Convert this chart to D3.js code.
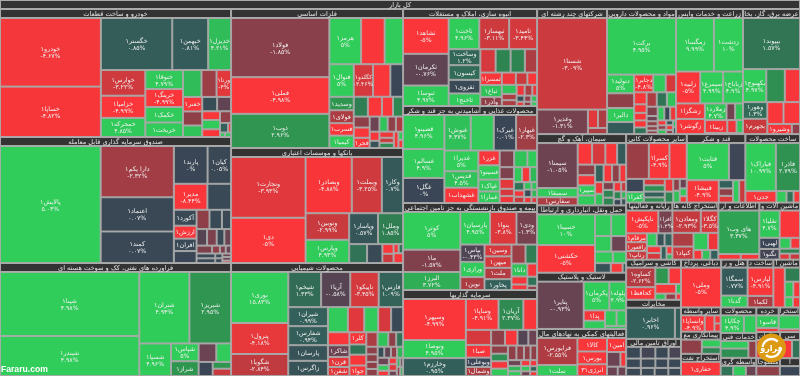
<!DOCTYPE html>
<html lang="fa"><head><meta charset="utf-8">
<style>html,body{margin:0;padding:0;background:#aaa;overflow:hidden}svg{display:block;filter:blur(.35px)}text{font-family:"DejaVu Sans",sans-serif}</style>
<script src="https://cdn.jsdelivr.net/npm/d3@7"></script></head><body><svg id="c" width="800" height="376"></svg>
<script>
const rootTitle="کل بازار";
// each row: symbol, traded size, % change
const khodro=[["خودرو۱",6800,-4.67],["خساپا۱",5000,-4.82],["خگستر۱",3650,.85],["خبهمن۱",1836,.81],["خدیزل۱",1170,4.21],["خوارس۱",1122,-3.22],["خزامیا۱",968,-4.99],["خمحرکه۱",836,4.85],["ختوقا۱",703,4.79],["خرینگ۱",666,-4.99],["خکمک۱",573,4.9],["خریخت۱",536,4.9],["",490,4.2],["",397,-2.2],["ورنا۱",384,-4],["خفنر۱",275,-4.9],["",266,-2],["",218,4.5],["",210,.3],["",196,-.8],["",153,-4.9],["",162,4.9],["",135,-4.9],["",126,-2],["",76,1],["",28,-4.9],["",22,4.9],["",27,4.9]];
const sandogh=[["پالایش۱",11484,5.03],["دارا یکم۱",3660,-2.32],["اعتماد۱",2443,.07],["کمند۱",2250,.07],["پارند۱",1242,0],["کیان۱",864,.05],["مدیر۱",850,-8.44],["",600,.1],["آکورد۱",352,.1],["ارزش۱",286,-5],["افران۱",275,.1],["",264,0],["",243,-2],["",234,.1],["",171,.05],["",170,-.6],["",155,-1.5],["",124,.1],["",108,-1],["",120,-1.5],["",60,-2],["",45,-1.5],["",41,-1],["",88,.1],["",85,.1],["",33,.1],["",33,.1],["",30,-1],["",30,-1],["",20,-4]];
const faravardeh=[["شپنا۱",8832,4.98],["شبندر۱",5520,4.98],["شتران۱",3550,4.94],["شبریز۱",2946,2.95],["شسپا۱",1023,4.96],["شپاس۱",486,5],["شراز۱",405,3],["",324,-1],["",270,4.9],["",196,0],["",123,3],["",133,-3]];
const felezat=[["فولاد۱",5539,-1.85],["فملی۱",3427,-4.98],["ذوب۱",3197,2.96],["هرمز۱",1395,5],["",1035,-4.9],["",810,4.9],["فنوال۱",756,5],["وسدید۱",312,3],["فولای۱",300,-2.5],["فسرب۱",288,-5],["کیمیا۱",288,4.9],["کگلدو۱",598,-3.46],["",535,-4.9],["",394,0],["",266,1.8],["",266,-4.9],["",209,-4.9],["",190,2.2],["",166,-2],["",155,-4.9],["فجر۱",155,-4.9],["",140,-1],["",85,-4.9],["",67,.5],["",118,4.5],["",118,-2],["",103,-2.5],["",84,-4.5],["",70,-3],["",70,2.5],["",72,-4.9],["",36,4.9],["",36,-4.9]];
const bank=[["وتجارت۱",4380,-3.93],["دی۱",3263,-5],["وبصادر۱",2513,-4.88],["وبملت۱",1633,-3.25],["وکار۱",1155,.7],["وتوبین۱",1121,-2.99],["وپارس۱",979,4.93],["وپاسار۱",861,.57],["وملل۱",750,1.85],["",327,1.5],["",280,.1],["",104,-4.9],["",100,-3],["",45,-4.9],["",39,1.5],["",90,-4.9]];
const shimi=[["نوری۱",2805,15.83],["پترول۱",1705,-4.18],["شگویا۱",1210,-2.84],["شیخم۱",1108,1.33],["آریا۱",984,-.58],["تاپیکو۱",960,-3.45],["فارس۱",823,1.09],["شیران۱",725,.99],["شفارس۱",725,.94],["پارسان۱",596,.5],["زاگرس۱",578,.5],["",480,4.9],["",396,-3.9],["",336,4.9],["",312,-3.5],["",288,.1],["",269,-4.9],["شاکر۱",242,-1],["قرن۱",207,-4],["شفن۱",186,-4],["کلر۱",198,-4.9],["",165,1.5],["",176,-4.9],["جوا۱",170,-4.9],["",157,-2.5],["",150,4.5],["",110,-2],["",96,1.5],["",83,-2],["",83,-2],["",77,-2],["",77,-2],["",70,.3],["",70,-.8],["",64,-2],["",64,4],["",80,-1],["",60,4.9],["",57,-4.9],["",50,-4.9],["",50,-4],["",40,-1],["",30,4],["",30,-2],["",25,-1],["",25,4]];
const anbooh=[["ثشاهد۱",1575,-5],["ثکرمان۱",1395,-.76],["ثنوسا۱",900,4.97],["ثاخت۱",921,4.96],["ثبهساز۱",900,-3.11],["ثامید۱",840,-3.44],["وساخت۱",490,1.2],["کیسون۱",448,1.3],["ثقزوی۱",416,.1],["ثاخنج۱",384,4.9],["",345,-3.5],["",338,2],["",322,2],["",276,-2.5],["ثمسرا۱",259,-4.9],["ثباغ۱",248,4.5],["وآذر۱",186,-2],["",166,-4.5],["",137,-3],["",115,-4.9],["",130,4.5],["",90,-2.5],["",83,-2.5],["",84,-4.5],["",80,-2.5],["",50,-4.5],["",45,.3],["",40,-2],["",35,4.5],["",30,-4.5],["",30,-2],["",25,4.9]];
const ghaza=[["قصینو۱",1308,4.96],["غسالم۱",1108,4.9],["غگل۱",960,0],["غنوش۱",868,4.37],["",759,4.9],["غبرک۱",736,.01],["غبهار۱",693,-2.3],["غدیرا۱",656,5],["قدیس۱",517,4.5],["غشهداب۱",485,-4.9],["غزر۱",292,-4.9],["غسینو۱",283,4.9],["غپاک۱",234,4.9],["غمارا۱",228,4.9],["",225,-1.5],["",205,4.5],["",150,4.9],["",156,-1.5],["",130,-4],["",97,-3.5],["",91,-4.5],["",114,4.8],["",108,-4.8],["",100,4],["",80,1.5],["",60,-4.8],["",60,-3],["",50,4.5],["",50,.2],["",40,-4.5],["",40,4.5],["",40,4],["",30,-4]];
const bimeh=[["کوثر۱",2111,5],["ما۱",1249,-1.57],["البرز۱",1008,3.72],["پارسیان۱",946,4.95],["بنوا۱",840,-3.8],["ودی۱",656,-1.3],["بپاس۱",408,-.43],["ورازی۱",360,4.9],["نوین۱",305,-2.5],["وسین۱",312,-3.5],["میهن۱",302,-3.3],["ملت۱",300,-2.6],["پخاور۱",286,1],["",260,-2.2],["",215,1.8],["داتا۱",200,4.5],["",125,-4.8],["",85,-4.8],["",125,-4.8],["",87,1.5],["",40,-2]];
const sarmaye=[["وسپهر۱",2442,-4.99],["وتوصا۱",1075,4.95],["وخارزم۱",1065,.95],["وساپا۱",956,-4.91],["آریان۱",726,2.37],["",402,-4.9],["",360,-3.5],["صبا۱",305,-4.8],["وبوعلی۱",224,0],["وشمال۱",216,-2.5],["",206,-2],["",186,-4.8],["",162,-.5],["",130,-1],["",130,-2],["",120,2.5],["",118,-4.8],["",118,4.8],["",117,-2],["",104,-2],["",91,-2],["",91,-2],["",72,-1],["",66,4],["",60,4.8],["",50,-4.8],["",45,4.8],["",40,-1],["",40,-4.8],["",35,1],["",30,-4.8]];
const chand=[["شستا۱",6300,-3.09],["وغدیر۱",1224,-1.31],["",183,-4],["",165,-2.5],["",114,-2.5]];
const darou=[["برکت۱",3640,4.95],["دتولید۱",473,5],["",372,-2],["دالبر۱",354,4.9],["",304,.8],["دجابر۱",315,-4.8],["",207,4.9],["",171,-3.5],["",140,-4.9],["",99,-4.9],["",88,-4.9],["",82,-4.9],["",77,1.5],["",136,-2.5],["",136,1.5],["",123,4.5],["",96,-1.5],["",54,-1],["",51,-2],["",45,-2],["",36,-2],["",85,4.8],["",75,0],["",75,-4.5],["",40,-4.9],["",35,-2],["",35,4.5],["",30,.5],["",30,-4.5],["",25,-2],["",20,4.5],["",20,1]];
const zeraat=[["زمگسا۱",1972,9.99],["زدشت۱",1517,10],["زلبیه۱",751,-5],["سیمرغ۱",710,4.99],["زباباخ۱",616,4.9],["زشگزا۱",435,-4.7],["زگوشر۱",425,-4.9],["زملارد۱",350,4.7],["",139,-1.2],["",128,4.5],["زبینا۱",282,-4.8],["",116,-4.5],["",82,4.8],["",40,-3]];
const bargh=[["بپیوند۱",2815,1.57],["بکهنوج۱",743,4.97],["",591,2.5],["",485,-4.8],["وهور۱",391,1.3],["بجهرم۱",360,-3],["",341,-4.9],["",348,-4.9],["وشیرو۱",240,-4.8],["",80,-2]];
const siman=[["سیمتا۱",1584,-1.05],["سمبقا۱",324,4.9],["سفارس۱",288,-2.5],["",270,-4.9],["",248,-3.5],["",221,-4.9],["",168,.8],["",160,-2],["",154,-4.9],["سپیر۱",154,4.9],["",150,4.9],["",129,1],["",129,-4.8],["",115,-2],["",100,-4.8],["",80,-4.5],["",80,4.5],["",72,-1.5],["",72,2],["",72,2],["",60,-4.8],["",50,2],["",40,0],["",40,-3],["",30,4],["",30,.5]];
const haml=[["حسینا۱",1727,10],["حکشتی۱",1556,-5],["",342,4.9],["",315,4.9],["",245,4.9],["",225,-1],["",200,4.9],["",150,4.9],["",147,.5],["",110,-4.9],["",33,1]];
const lastik=[["پتایر۱",2070,-.93],["پکرمان۱",694,5],["پلوله۱",454,4.9],["پدا۱",207,-4.9],["",166,4.9],["",168,4.8],["",140,4.8],["",60,4.8]];
const komaki=[["فرابورس۱",1040,-2.55],["تملت۱",420,4.9],["کالا۱",381,-4.9],["بورس۱",360,-4.9],["انرژی۳۱",330,-4.9],["امین۱",257,-4.9],["",187,-1],["",80,-4.9],["",95,-1],["",75,-1]];
const kani=[["",736,-2.2],["کسرا۱",670,-4.9],["",561,-4.9],["",210,0],["کفرا۱",168,4.9],["",122,-3.5],["",120,2.5],["",110,1],["",98,2.5],["",98,-4.5],["",84,2],["",70,-2],["",70,4.5],["",60,-1],["",50,4.9],["",40,-4.9]];
const ghand=[["قثابت۱",1476,5],["",576,-.1],["قنیشا۱",676,-4.9],["",112,1],["",100,-2],["",90,-4],["",130,4.9],["",130,-3]];
const sakhtMahsool=[["فباراک۱",1394,10.99],["فاذر۱",1104,2.79],["جدن۱",338,-4.9],["",110,4.9],["",77,1.5],["",70,-4.9]];
const rayaneh=[["ناپکیش۱",694,-5],["افرا۱",303,-1.3],["مرقام۱",174,-4.9],["رافعور۱",174,-3.3],["رتاپ۱",168,-3],["",120,4.9],["",96,.5],["",96,1],["",90,-4.9],["",87,-3.5],["",72,1],["",45,-4.9],["",30,4]];
const kaneh=[["ومعادن۱",607,-2.93],["کگلا۱",376,-3.5],["",278,-2.5],["کنپاد۱",264,-3],["",238,4.8],["",170,-4.5],["",80,-4.9],["",75,4.5],["",75,1]];
const etelaat=[["های وب۱",1720,3.37],["",120,-4.9],["",100,-4.9]];
const mashin=[["تقلیا۱",542,4.7],["",542,-4.9],["لهبی۱",220,0],["تگنو۱",210,-.2],["",117,4.8],["",100,-4.8],["",100,2],["",60,-4],["",60,-3]];
const kashi=[["کساوه۱",542,-2.62],["کحافظ۱",348,-4.9],["",208,3],["",192,-4.9],["",189,-4.9],["",45,4.5],["",60,4.5],["",60,-2],["",30,-4.9]];
const mokhaberat=[["اخابر۱",1440,.96],["",180,.9]];
const oragh=[["",100,.02],["",100,-.2],["",90,.02],["",85,-.3],["",80,.03],["",80,.02],["",70,.03],["",70,.02],["",70,.02],["",65,.02],["",65,.03],["",60,.02]];
const dabaghi=[["وملی۱",1521,-5]];
const hotel=[["سمگا۱",710,.77],["گدنا۱",300,4.9]];
const sakhtDastgah=[["لپارس۱",683,-4.91],["لکما۱",278,-2.5]];
const mashinAla=[["",438,-4.9],["",208,1.8],["",130,4.5],["",100,-4.9],["",80,4.9],["",70,-4.9]];
const sayerVaseteh=[["وانساپا۱",306,-4.9],["",126,-4.9],["",40,-4.9],["",40,-4.5]];
const peymankari=[["",266,-2],["",130,4.9],["",110,2]];
const naft=[["حفاری۱",530,-4.9]];
const mahsoolat=[["چکاپا۱",350,4.9],["",188,4.9]];
const khadamat=[["",190,4.9],["",230,2.5],["",120,-2]];
const vasetegari=[["",120,1.5],["",120,4.9],["",100,-1]];
const fardeh=[["قاسو۱",258,4.9],["",80,-4.9]];
const estekhraj=[["",300,4.9],["",60,-4]];
const mobl=[["",150,-4.9],["",150,4.9]];
const si=[["",150,-4.9],["",100,1.5]];
const mansooj=[["",120,-2]];
const alef=[["",120,0]];

const sectorNames=["خودرو و ساخت قطعات","صندوق سرمایه گذاری قابل معامله","فراورده های نفتی، کک و سوخت هسته ای","فلزات اساسی","بانکها و موسسات اعتباری","محصولات شیمیایی","انبوه سازی، املاک و مستغلات","محصولات غذایی و آشامیدنی به جز قند و شکر","بیمه و صندوق بازنشستگی به جز تامین اجتماعی","سرمایه گذاریها","شرکتهای چند رشته ای","مواد و محصولات دارویی","زراعت و خدمات وابسته","عرضه برق، گاز، بخار و آب گرم","سیمان، آهک و گچ","حمل ونقل، انبارداری و ارتباطات","لاستیک و پلاستیک","فعالیتهای کمکی به نهادهای مالی واسط","سایر محصولات کانی غیرفلزی","قند و شکر","ساخت محصولات فلزی","رایانه و فعالیتهای وابسته","استخراج کانه های فلزی","اطلاعات و ارتباطات","ماشین آلات و تجهیزات","کاشی و سرامیک","مخابرات","اوراق تامین مالی","دباغی، پرداخت چرم","هتل و رستوران","ساخت دستگاههای برقی","ماشین آلات و دستگاهها","سایر واسطه گریهای مالی","پیمانکاری معدن","استخراج نفت گاز","محصولات کاغذی","خدمات فنی و مهندسی","واسطه گری های مالی","خرده فروشی","استخراج زغال سنگ","مبلمان","سی","منسوجات","ا"];
const sectorSizes=[29568,29106,26103,23908,19780,19436,12998,12998,11658,11524,8750,8625,8375,7125,6350,5990,5010,4190,4148,4012,3740,2640,2620,2340,2320,2200,2145,2035,1920,1262,1234,1272,960,880,880,910,890,648,550,525,620,520,420,360];
const sectorCells=[khodro,sandogh,faravardeh,felezat,bank,shimi,anbooh,ghaza,bimeh,sarmaye,chand,darou,zeraat,bargh,siman,haml,lastik,komaki,kani,ghand,sakhtMahsool,rayaneh,kaneh,etelaat,mashin,kashi,mokhaberat,oragh,dabaghi,hotel,sakhtDastgah,mashinAla,sayerVaseteh,peymankari,naft,mahsoolat,khadamat,vasetegari,fardeh,estekhraj,mobl,si,mansooj,alef];
// how each sector's cells group into strips: n>0 a row of n cells, n<0 a column of |n| cells
const stripPlans=[[-2,3,-3,-4,3,-3,2,-3,1,2,2],[-1,-3,2,2,-4,3,4,4,-2,-2,-3],[-2,2,-1,-2,2,-1,-2],[-3,3,-5,3,4,-3,-3,3,-3,-1,-2],[-2,3,-2,2,-1,-1,-2,2,1],[-3,4,-4,5,-4,-4,4,-4,4,-3,-3,-2,-2],[-3,3,-4,4,-3,3,-3,3,3,3],[-3,4,-3,-4,3,-4,3,-3,-3,-3],[-3,3,-3,-4,2,-3,-3],[-3,3,-4,4,-4,4,-3,-3,-3],[1,-1,2,1],[1,-4,3,-5,3,-5,3,-3,-3,-2],[2,3,-2,3,3,1],[1,3,-2,2,2],[-3,4,-4,4,-2,-3,-3,-3],[-2,2,2,2,3],[-1,2,-2,2,1],[-2,-3,1,2,2],[3,-2,-4,-2,-2,-3],[2,-1,-3,-1,-1],[2,4],[2,-3,3,-2,-1,-2],[2,-2,2,3],[1,2],[2,-2,2,1,2],[-2,2,2,3],[2],[4,4,4],[1],[1,1],[1,1],[-1,1,2,2],[-1,-1,-2],[-1,-2],[1],[2],[-2,-1],[3],[1,1],[1,1],[2],[2],[1],[1]];
const colorStops=[-5,-3,-2,-1,0,1,2,3,4,5];
const colorRange=["#fb363a","#c93a3e","#8f3f48","#6b4352","#3a4655","#33605a","#2f8552","#2f9650","#30b858","#30cd5a"];

const W=800,H=376;
const color=d3.scaleLinear().domain(colorStops).range(colorRange).clamp(true);
const rootData={name:rootTitle,children:sectorNames.map((n,i)=>({name:n,size:sectorSizes[i],plan:stripPlans[i],children:sectorCells[i].map(c=>({name:c[0],area:c[1],change:c[2]}))}))};
const root=d3.hierarchy(rootData).sum(d=>d.area||0);
root.children.forEach(s=>{s.value=s.data.size});
root.value=d3.sum(root.children,s=>s.value);
function tile(parent,x0,y0,x1,y1){
  if(parent.depth===0){ // sectors: squarified, slightly biased toward rows on near-square remainders
    const k=.97;
    d3.treemapSquarify(parent,x0*k,y0,x1*k,y1);
    parent.children.forEach(c=>{c.x0/=k;c.x1/=k});
    return;
  }
  // cells: strips
  let rem=d3.sum(parent.children,c=>c.value),i=0;
  parent.data.plan.forEach(n=>{
    const kids=parent.children.slice(i,i+Math.abs(n)),s=d3.sum(kids,c=>c.value),part={children:kids,value:s};
    i+=Math.abs(n);
    if(n>0){const h=(y1-y0)*s/rem;d3.treemapDice(part,x0,y0,x1,y0+h);y0+=h;}
    else{const w=(x1-x0)*s/rem;d3.treemapSlice(part,x0,y0,x0+w,y1);x0+=w;}
    rem-=s;
  });
}
const hdr=d=>d.value>3000?9:8;
d3.treemap().size([W,H]).tile(tile).paddingTop(d=>d.depth===0?9:d.depth===1?hdr(d):0).round(false)(root);

const fa=s=>String(s).replace(/\d/g,c=>"۰۱۲۳۴۵۶۷۸۹"[c]);
const fmtPct=v=>(v<0?"-":"")+fa(+Math.abs(v).toFixed(2))+"%";
const svg=d3.select("#c");
svg.append("rect").attr("width",W).attr("height",H).attr("fill","#aaa");
svg.append("rect").attr("x",.5).attr("y",.5).attr("width",W-1).attr("height",8).attr("fill","#333").attr("stroke","#aaa");
svg.append("text").attr("x",W/2).attr("y",7).attr("text-anchor","middle").attr("font-size",6.5).attr("fill","#e4e4e4").text(rootTitle);
const sectors=root.children;
svg.append("g").selectAll("rect").data(root.leaves()).join("rect")
 .attr("x",d=>d.x0+.5).attr("y",d=>d.y0+.5).attr("width",d=>Math.max(0,d.x1-d.x0-1)).attr("height",d=>Math.max(0,d.y1-d.y0-1))
 .attr("fill",d=>color(d.data.change)).attr("stroke","#aaa").attr("stroke-width",1).attr("stroke-opacity",.9);
const hg=svg.append("g").selectAll("g").data(sectors).join("g");
hg.append("rect").attr("x",d=>d.x0+.5).attr("y",d=>d.y0+.5).attr("width",d=>d.x1-d.x0-1).attr("height",d=>hdr(d)-1).attr("fill","#333").attr("stroke","#aaa");
hg.append("text").attr("x",d=>(d.x0+d.x1)/2).attr("y",d=>d.y0+hdr(d)-2.2).attr("text-anchor","middle").attr("font-size",6.6).attr("fill","#e4e4e4").text(d=>d.data.name)
 .each(function(d){ // shorten a header that does not fit its sector
   let s=d.data.name;const w=d.x1-d.x0-2;
   while(s.length>1&&this.getComputedTextLength()>w){s=s.slice(0,-1).trimEnd();this.textContent=s;}
 });
const lg=svg.append("g").selectAll("g").data(root.leaves().filter(d=>d.data.name&&d.x1-d.x0>9&&d.y1-d.y0>5)).join("g").attr("fill","#f0f0f0").attr("text-anchor","middle");
lg.each(function(d){
  const g=d3.select(this),w=d.x1-d.x0,h=d.y1-d.y0,cx=(d.x0+d.x1)/2,cy=(d.y0+d.y1)/2,two=h>=16;
  const t=g.append("text").attr("x",cx).attr("y",two?cy-1:cy+2).attr("font-size",6.4).text(d.data.name);
  const tw=t.node().getComputedTextLength();
  const fs=tw>w-2?Math.max(3.5,6.4*(w-2)/tw):6.4;
  t.attr("font-size",fs);
  if(two)g.append("text").attr("x",cx).attr("y",cy+6).attr("font-size",Math.min(fs,6.2)).text(fmtPct(d.data.change));
});
// watermark
svg.append("text").attr("x",1).attr("y",371.5).attr("font-size",8.6).attr("font-weight","bold").attr("fill","#fff").style("font-family","'Liberation Sans',sans-serif").text("Fararu.com");
const lgo=svg.append("g").attr("transform","translate(771.5,348)");
lgo.append("circle").attr("r",14.5).attr("fill","#db9a12");
lgo.append("circle").attr("r",9).attr("fill","none").attr("stroke","#fff").attr("stroke-width",2.4).attr("stroke-dasharray","20 9");
lgo.append("text").attr("text-anchor","middle").attr("y",3).attr("font-size",8).attr("font-weight","bold").attr("fill","#fff").text("فرارو");
</script></body></html>
